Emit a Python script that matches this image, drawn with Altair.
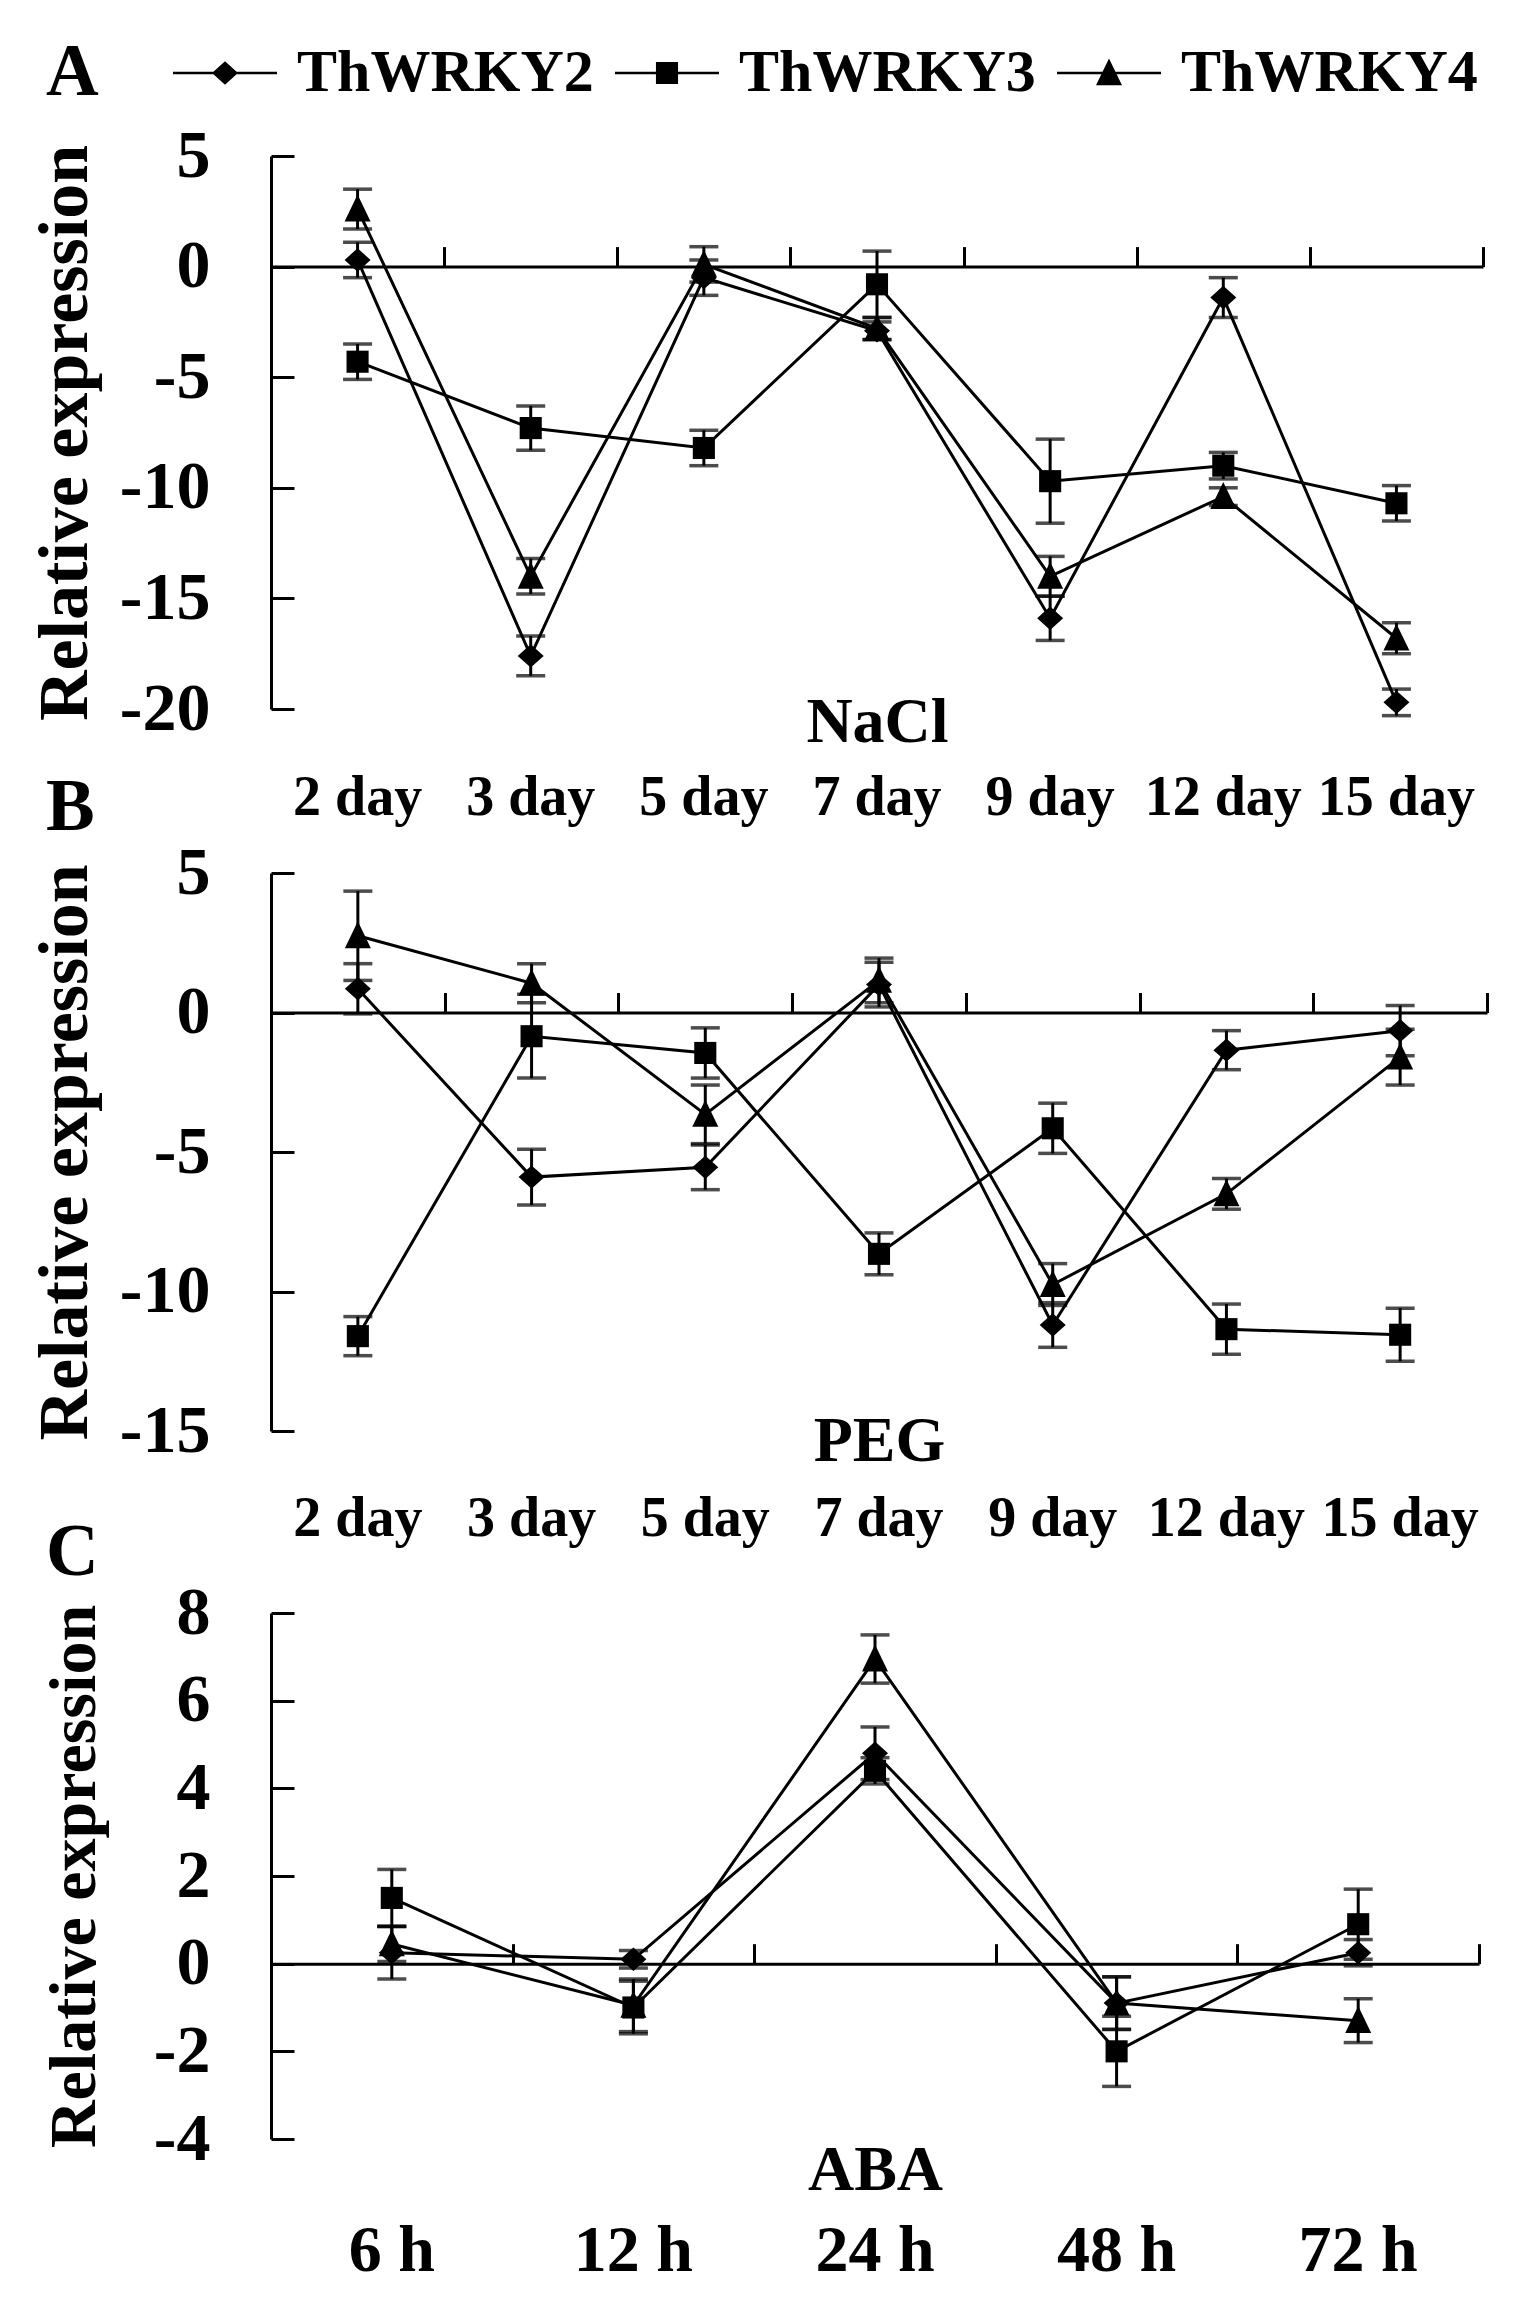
import altair as alt
import pandas as pd

FONT = "Liberation Serif"

genes = ["ThWRKY2", "ThWRKY3", "ThWRKY4"]
days = ["2 day", "3 day", "5 day", "7 day", "9 day", "12 day", "15 day"]
hours = ["6 h", "12 h", "24 h", "48 h", "72 h"]

# NaCl
nacl_w2 = [0.3, -17.6, -0.5, -2.9, -15.9, -1.4, -19.7]
nacl_w2_err = [0.8, 0.9, 0.8, 0.4, 1.0, 0.9, 0.6]
nacl_w3 = [-4.3, -7.3, -8.2, -0.8, -9.7, -9.0, -10.7]
nacl_w3_err = [0.8, 1.0, 0.8, 1.5, 1.9, 0.6, 0.8]
nacl_w4 = [2.6, -14.0, 0.1, -2.8, -14.0, -10.4, -16.8]
nacl_w4_err = [0.9, 0.8, 0.8, 0.5, 0.9, 0.4, 0.7]

# PEG
peg_w2 = [0.85, -5.9, -5.55, 1.0, -11.2, -1.35, -0.65]
peg_w2_err = [0.9, 1.0, 0.8, 0.8, 0.8, 0.7, 0.9]
peg_w3 = [-11.6, -0.85, -1.45, -8.65, -4.15, -11.35, -11.55]
peg_w3_err = [0.7, 1.5, 0.9, 0.75, 0.9, 0.9, 0.95]
peg_w4 = [2.75, 1.05, -3.65, 1.15, -9.75, -6.5, -1.6]
peg_w4_err = [1.6, 0.7, 1.05, 0.8, 0.75, 0.55, 1.0]

# ABA
aba_w2 = [0.25, 0.1, 4.8, -0.9, 0.25]
aba_w2_err = [0.6, 0.2, 0.6, 0.6, 0.3]
aba_w3 = [1.5, -1.0, 4.4, -2.0, 0.9]
aba_w3_err = [0.65, 0.6, 0.3, 0.8, 0.8]
aba_w4 = [0.45, -0.95, 6.95, -0.9, -1.3]
aba_w4_err = [0.4, 0.6, 0.55, 0.6, 0.5]

markers = {
    "ThWRKY2": "M0,-0.9L1,0L0,0.9L-1,0Z",
    "ThWRKY3": "M-0.85,-0.85H0.85V0.85H-0.85Z",
    "ThWRKY4": "M0,-1.12L1,0.95L-1,0.95Z",
}
# legend symbol: a short filled bar through the marker
legend_paths = ["M-4,-0.1H4V0.1H-4Z" + markers[g] for g in genes]


def make_frame(times, series):
    rows = []
    for g, (vals, errs) in zip(genes, series):
        for i, (t, v, e) in enumerate(zip(times, vals, errs)):
            rows.append({"time": t, "idx": i, "gene": g, "value": v,
                         "lo": v - e, "hi": v + e})
    return pd.DataFrame(rows)


def panel(df, times, domain, ticks, title, letter, width, height,
          label_pad, label_size, title_y, letter_dy, ytitle_x, ytitle_size,
          legend=False):
    x_scale = alt.Scale(type="band", domain=times, paddingInner=0, paddingOuter=0)
    y_scale = alt.Scale(domain=domain, nice=False, zero=False)
    zero_off = height * domain[1] / (domain[1] - domain[0])

    x_none = alt.X("time:N", scale=x_scale, axis=None)
    base = alt.Chart(df)

    lines = base.mark_line(color="black", strokeWidth=3).encode(
        x=alt.X("time:N", scale=x_scale, axis=alt.Axis(
            orient="bottom", domain=False, ticks=False, tickSize=0,
            labelPadding=label_pad, labelBaseline="alphabetic", labelAngle=0,
            labelFont=FONT, labelFontSize=label_size, labelFontWeight="bold",
            labelColor="black", labelOverlap=False,
            title=title, titleY=title_y, titleBaseline="alphabetic",
            titleFont=FONT, titleFontSize=64, titleFontWeight="bold",
            titleColor="black", grid=False)),
        y=alt.Y("value:Q", scale=y_scale, axis=alt.Axis(
            orient="left", values=ticks, ticks=False, tickSize=0,
            domainColor="black", domainWidth=3, labelPadding=61,
            labelFont=FONT, labelFontSize=68, labelFontWeight="bold",
            labelColor="black",
            labelExpr="datum.value < 0 ? '-' + abs(datum.value) : '' + datum.value",
            title="Relative expression", titleX=ytitle_x, titleY=height / 2,
            titleAngle=-90, titleAlign="center", titleBaseline="alphabetic",
            titleFont=FONT, titleFontSize=ytitle_size, titleFontWeight="bold",
            titleColor="black", grid=False)),
        detail="gene:N",
        order="idx:Q",
    )

    bars = base.mark_rule(color="black", strokeWidth=3).encode(
        x=alt.X("time:N", scale=x_scale, axis=alt.Axis(
            orient="top", offset=-zero_off, labels=False, domainColor="black",
            domainWidth=3, tickBand="extent", tickSize=20, tickWidth=3,
            tickColor="black", title=None, grid=False)),
        y=alt.Y("lo:Q", scale=y_scale, axis=alt.Axis(
            orient="right", offset=-width, labels=False, domain=False,
            values=ticks, tickSize=23, tickWidth=3, tickColor="black",
            title=None, grid=False)),
        y2="hi:Q",
    )
    caps_lo = base.mark_tick(color="black", thickness=3.5, size=29).encode(
        x=x_none, y=alt.Y("lo:Q", scale=y_scale, axis=None))
    caps_hi = base.mark_tick(color="black", thickness=3.5, size=29).encode(
        x=x_none, y=alt.Y("hi:Q", scale=y_scale, axis=None))

    layers = [lines, bars, caps_lo, caps_hi]
    for g in genes:
        layers.append(
            base.transform_filter(alt.datum.gene == g)
            .mark_point(shape=markers[g], filled=True, color="black",
                        size=676, opacity=1)
            .encode(x=x_none, y=alt.Y("value:Q", scale=y_scale, axis=None))
        )

    if legend:
        layers.append(
            base.transform_filter("false")
            .mark_point(filled=True, color="black", opacity=1)
            .encode(shape=alt.Shape("gene:N", scale=alt.Scale(
                domain=genes, range=legend_paths), legend=alt.Legend(
                title=None, orient="none", direction="horizontal", columns=3,
                legendX=-76, legendY=-113, symbolSize=676,
                symbolStrokeWidth=0, symbolFillColor="black",
                labelOffset=42, columnPadding=21, labelLimit=0,
                labelFont=FONT, labelFontSize=60, labelFontWeight="bold",
                labelColor="black")))
        )

    return alt.layer(*layers).properties(
        width=width, height=height,
        title=alt.TitleParams(letter, anchor="start", frame="group",
                              font=FONT, fontSize=73, fontWeight="bold",
                              color="black", dx=-225, dy=letter_dy),
    )


df_a = make_frame(days, [(nacl_w2, nacl_w2_err), (nacl_w3, nacl_w3_err),
                         (nacl_w4, nacl_w4_err)])
df_b = make_frame(days, [(peg_w2, peg_w2_err), (peg_w3, peg_w3_err),
                         (peg_w4, peg_w4_err)])
df_c = make_frame(hours, [(aba_w2, aba_w2_err), (aba_w3, aba_w3_err),
                          (aba_w4, aba_w4_err)])

pa = panel(df_a, days, [-20, 5], [5, 0, -5, -10, -15, -20], "NaCl", "A",
           1212, 553, 105, 56, 32, -8, -185, 70, legend=True)
pb = panel(df_b, days, [-15, 5], [5, 0, -5, -10, -15], "PEG", "B",
           1216, 558, 104, 56, 29, 10, -185, 70)
pc = panel(df_c, hours, [-4, 8], [8, 6, 4, 2, 0, -2, -4], "ABA", "C",
           1208, 526, 131, 66, 50, 15, -177, 66)

chart = alt.vconcat(
    pa,
    alt.vconcat(pb, pc, spacing=182, bounds="flush"),
    spacing=164, bounds="flush",
).properties(
    padding={"left": 21, "top": 29, "right": 5, "bottom": 5},
    background="white",
).configure_view(stroke=None)

chart.save("out.html", embed_options={"renderer": "svg", "actions": False})
